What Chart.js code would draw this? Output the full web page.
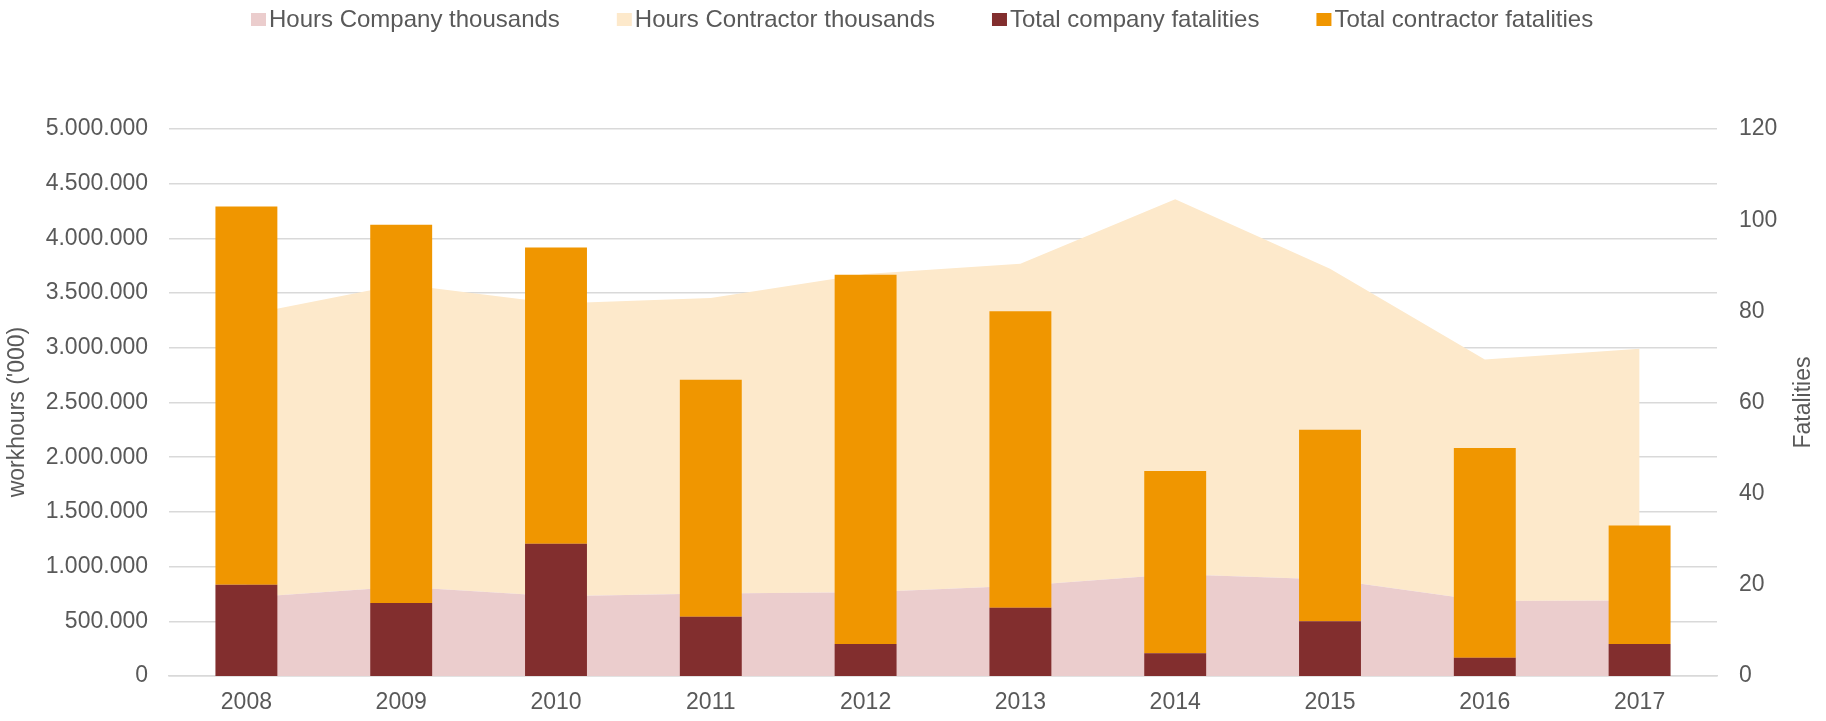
<!DOCTYPE html>
<html>
<head>
<meta charset="utf-8">
<script src="https://cdn.jsdelivr.net/npm/chart.js@4.4.1/dist/chart.umd.min.js"></script>
<style>
  html, body { margin: 0; padding: 0; background: #ffffff; }
  #wrap { width: 1826px; height: 721px; position: relative; }
</style>
</head>
<body>
<div id="wrap"><canvas id="c" width="1826" height="721"></canvas></div>
<script>
// ---- data ----
const years = ['2008', '2009', '2010', '2011', '2012', '2013', '2014', '2015', '2016', '2017'];
const hoursCompany = [717000, 815000, 728000, 753000, 765000, 826000, 929000, 881000, 685000, 689000];
const hoursContractor = [2585000, 2765000, 2678000, 2702000, 2910000, 2943000, 3428000, 2842000, 2209000, 2303000];
const fatalCompany = [20, 16, 29, 13, 7, 15, 5, 12, 4, 7];
const fatalContractor = [83, 83, 65, 52, 81, 65, 40, 42, 46, 26];
const leftAxisTitle = "workhours ('000)";
const rightAxisTitle = 'Fatalities';

// ---- style ----
const TEXT = '#595959';
const GRID = '#D9D9D9';
const FONT = "'Liberation Sans', Arial, sans-serif";
const FS = 23;

function fmtDots(v) {
  return String(Math.round(v)).replace(/\B(?=(\d{3})+(?!\d))/g, '.');
}

const customDecor = {
  id: 'customDecor',
  afterDraw(chart) {
    const ctx = chart.ctx;
    ctx.save();
    // legend
    ctx.font = '24px ' + FONT;
    ctx.textBaseline = 'middle';
    ctx.textAlign = 'left';
    let x = 251;
    chart.data.datasets.forEach(ds => {
      ctx.fillStyle = ds.backgroundColor;
      ctx.fillRect(x, 13, 15, 13);
      ctx.fillStyle = TEXT;
      ctx.fillText(ds.label, x + 18, 20.5);
      x += 18 + ctx.measureText(ds.label).width + 57;
    });
    // axis titles
    ctx.font = FS + 'px ' + FONT;
    ctx.textAlign = 'center';
    ctx.textBaseline = 'middle';
    ctx.fillStyle = TEXT;
    ctx.save();
    ctx.translate(18, 412);
    ctx.rotate(-Math.PI / 2);
    ctx.fillText(leftAxisTitle, 0, 0);
    ctx.restore();
    ctx.save();
    ctx.translate(1804, (chart.chartArea.top + chart.chartArea.bottom) / 2);
    ctx.rotate(-Math.PI / 2);
    ctx.fillText(rightAxisTitle, 0, 0);
    ctx.restore();
    ctx.restore();
  }
};

new Chart(document.getElementById('c'), {
  data: {
    labels: years,
    datasets: [
      {
        type: 'line', label: 'Hours Company thousands', data: hoursCompany,
        yAxisID: 'y', stack: 'hours', order: 1,
        backgroundColor: '#EBCDCD', borderColor: '#EBCDCD', borderWidth: 0,
        pointRadius: 0, fill: 'origin', tension: 0
      },
      {
        type: 'line', label: 'Hours Contractor thousands', data: hoursContractor,
        yAxisID: 'y', stack: 'hours', order: 1,
        backgroundColor: '#FDE9CB', borderColor: '#FDE9CB', borderWidth: 0,
        pointRadius: 0, fill: '-1', tension: 0
      },
      {
        type: 'bar', label: 'Total company fatalities', data: fatalCompany,
        yAxisID: 'y1', stack: 'fat', order: 0,
        backgroundColor: '#822E2E', borderWidth: 0,
        categoryPercentage: 0.8, barPercentage: 0.5
      },
      {
        type: 'bar', label: 'Total contractor fatalities', data: fatalContractor,
        yAxisID: 'y1', stack: 'fat', order: 0,
        backgroundColor: '#F09600', borderWidth: 0,
        categoryPercentage: 0.8, barPercentage: 0.5
      }
    ]
  },
  options: {
    responsive: false,
    animation: false,
    devicePixelRatio: 1,
    layout: { padding: { top: 129, left: 0, right: 0, bottom: 0 } },
    plugins: {
      legend: { display: false },
      tooltip: { enabled: false },
      title: { display: false }
    },
    scales: {
      x: {
        stacked: true,
        offset: true,
        grid: { display: false, drawTicks: false },
        border: { display: true, color: GRID, width: 1.5 },
        ticks: { color: TEXT, font: { family: FONT, size: FS }, padding: 13, maxRotation: 0 },
        afterFit(scale) { scale.height = 45; }
      },
      y: {
        position: 'left',
        stacked: true,
        min: 0, max: 5000000,
        grid: { color: GRID, lineWidth: 1.5, drawTicks: false },
        border: { display: false },
        ticks: {
          stepSize: 500000, color: TEXT, font: { family: FONT, size: FS }, padding: 21,
          callback: v => fmtDots(v)
        },
        afterFit(scale) { scale.width = 169; }
      },
      y1: {
        position: 'right',
        stacked: true,
        min: 0, max: 120,
        grid: { display: false, drawTicks: false },
        border: { display: false },
        ticks: { stepSize: 20, color: TEXT, font: { family: FONT, size: FS }, padding: 22 },
        afterFit(scale) { scale.width = 109; }
      }
    }
  },
  plugins: [customDecor]
});
</script>
</body>
</html>
